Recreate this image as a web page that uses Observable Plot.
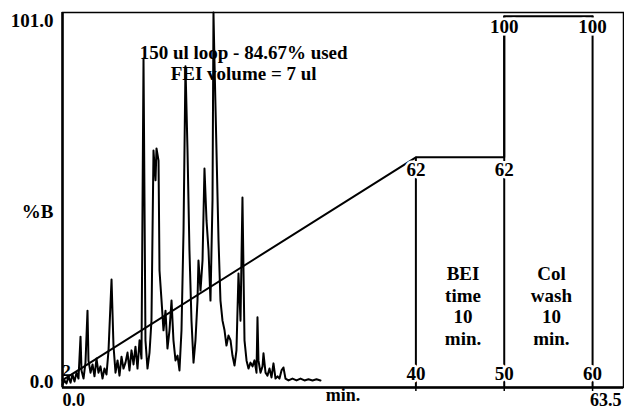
<!DOCTYPE html>
<html>
<head>
<meta charset="utf-8">
<script src="https://cdn.jsdelivr.net/npm/d3@7"></script>
<script src="https://cdn.jsdelivr.net/npm/@observablehq/plot@0.6"></script>
<style>
  html, body { margin: 0; padding: 0; background: #fff; }
  #chart { width: 624px; height: 410px; }
</style>
</head>
<body>
<div id="chart"></div>
<script>
// Chromatogram trace (time in min, signal on the %B scale)
const chromTime = [0.00,0.23,0.45,0.68,0.91,1.13,1.36,1.58,1.81,2.04,2.15,2.38,2.60,2.83,2.94,3.17,3.40,3.62,3.85,4.07,4.30,4.53,4.75,4.98,5.21,5.55,5.77,6.00,6.23,6.45,6.68,6.90,7.13,7.36,7.58,7.81,8.04,8.26,8.49,8.72,8.94,9.17,9.39,9.62,9.85,10.07,10.30,10.53,10.64,10.87,10.98,11.21,11.43,11.66,11.88,12.11,12.34,12.56,12.79,13.02,13.24,13.47,13.70,13.92,14.15,14.37,14.60,14.83,15.05,15.28,15.39,15.62,15.85,16.07,16.30,16.53,16.75,16.98,17.09,17.20,17.43,17.66,17.88,18.11,18.34,18.56,18.79,19.02,19.24,19.47,19.69,19.92,20.15,20.37,20.60,20.83,21.05,21.28,21.51,21.73,21.96,22.07,22.18,22.41,22.64,22.75,22.98,23.20,23.43,23.66,23.88,24.11,24.34,24.56,24.79,25.01,25.24,25.58,26.03,26.49,26.94,27.39,27.84,28.30,28.75,29.20];
const chromSignal = [0.8,1.9,1.1,3.0,1.3,3.5,1.6,4.0,2.4,13.7,4.6,2.4,6.7,20.7,7.3,4.0,6.2,3.0,7.8,4.0,5.7,2.4,5.1,3.5,10.0,29.1,11.3,4.0,7.3,3.2,8.3,5.1,6.7,9.4,4.6,10.0,6.2,11.0,5.1,12.7,7.8,88.6,12.7,5.1,9.4,18.0,63.8,55.8,64.4,61.1,31.5,23.4,15.4,20.7,10.5,15.4,23.4,12.7,7.3,8.6,4.6,15.4,42.3,86.5,63.8,36.9,18.0,6.7,12.7,23.4,34.2,26.1,34.2,59.0,45.0,36.9,23.4,50.4,101,88.1,63.8,39.6,23.4,18.0,15.4,11.3,14.0,12.7,8.6,5.9,10.0,30.7,18.0,51.2,12.7,7.3,5.1,6.7,5.7,7.3,4.0,18.9,7.3,4.0,5.7,9.2,4.0,3.2,5.1,2.7,6.5,2.4,3.0,2.4,4.6,5.4,2.4,1.9,2.4,1.9,2.4,1.9,2.2,1.9,2.2,1.9];

// Gradient program (%B)
const gradTime = [0, 40, 50, 50, 60];
const gradPct  = [2, 62, 62, 100, 100];

// Event markers
const eventTimes = [40, 50, 60];
const eventPct   = [62, 100, 100];
const eventLabels = ["40", "50", "60"];

// Gradient step labels
const stepTime  = [40, 50, 50, 60];
const stepPct   = [62, 62, 100, 100];
const stepLabel = ["62", "62", "100", "100"];

// Axis labels
const yTickValues = [0, 101];
const yTickLabels = ["0.0", "101.0"];
const xDomain = [0, 63.5];
const xTickLabels = ["0.0", "63.5"];

const titleLines = "150 ul loop - 84.67% used\nFEI volume = 7 ul";
const phaseNotes = ["BEI\ntime\n10\nmin.", "Col\nwash\n10\nmin."];
const phaseMid = [45, 55];

const chrom = chromTime.map((t, i) => ({t, v: chromSignal[i]}));
const grad = gradTime.map((t, i) => ({t, v: gradPct[i]}));
const events = eventTimes.map((t, i) => ({t, top: eventPct[i], label: eventLabels[i]}));
const steps = stepTime.map((t, i) => ({t, v: stepPct[i], label: stepLabel[i]}));
const yTicks = yTickValues.map((v, i) => ({v, label: yTickLabels[i]}));
const xTicks = xDomain.map((t, i) => ({t, label: xTickLabels[i]}));
const phases = phaseMid.map((t, i) => ({t, label: phaseNotes[i]}));

const font = {fontFamily: "Liberation Serif", fontWeight: "bold", fontSize: 19};
const halo = {stroke: "white", strokeWidth: 5, fill: "black"};

const chart = Plot.plot({
  width: 624,
  height: 410,
  marginLeft: 62,
  marginRight: 1,
  marginTop: 12,
  marginBottom: 23,
  x: {type: "linear", domain: xDomain, axis: null},
  y: {type: "linear", domain: [0, 101], axis: null},
  style: {background: "white", color: "black", overflow: "visible"},
  marks: [
    Plot.frame({stroke: "black", strokeWidth: 1.5}),
    // chromatogram
    Plot.line(chrom, {x: "t", y: "v", stroke: "black", strokeWidth: 2}),
    // gradient
    Plot.line(grad, {x: "t", y: "v", stroke: "black", strokeWidth: 2}),
    Plot.ruleX(events, {x: "t", y1: 0, y2: "top", stroke: "black", strokeWidth: 2}),
    // title annotation
    Plot.text([titleLines], {x: 20.5, frameAnchor: "top", dy: 31, text: d => d, lineHeight: 1.12, ...font}),
    // step labels
    Plot.text(steps.filter(d => d.v < 100), {x: "t", y: "v", text: "label", dy: 13, ...halo, ...font}),
    Plot.text(steps.filter(d => d.v >= 100), {x: "t", y: "v", text: "label", dy: 11, ...halo, ...font}),
    Plot.text(events, {x: "t", y: 0, text: "label", dy: -14, ...halo, ...font}),
    Plot.text([grad[0]], {x: "t", y: "v", text: d => String(d.v), dx: 4, dy: -10, ...font, fontSize: 17}),
    // phase notes
    Plot.text(phases, {x: "t", y: 22, text: "label", dx: 3, lineHeight: 1.13, ...font}),
    // axes
    Plot.ruleX([0], {stroke: "black", strokeWidth: 2.5}),
    Plot.ruleY([0], {stroke: "black", strokeWidth: 2.5}),
    Plot.ruleX(eventTimes, {x: d => d, y1: 0, y2: 0, insetBottom: -4, stroke: "black", strokeWidth: 1.5}),
    Plot.text(yTicks.filter(d => d.v === 0), {x: 0, y: "v", text: "label", textAnchor: "end", dx: -9, dy: -6, ...font}),
    Plot.text(yTicks.filter(d => d.v !== 0), {x: 0, y: "v", text: "label", textAnchor: "end", dx: -9, dy: 8, ...font}),
    Plot.text(["%B"], {frameAnchor: "left", text: d => d, textAnchor: "end", dx: -9, dy: 12, ...font}),
    Plot.text(xTicks.filter(d => d.t === 0), {x: "t", y: 0, text: "label", textAnchor: "start", dy: 13, fontFamily: "Liberation Serif", fontWeight: "bold", fontSize: 18}),
    Plot.text(xTicks.filter(d => d.t !== 0), {x: "t", y: 0, text: "label", textAnchor: "end", dx: -2, dy: 13, fontFamily: "Liberation Serif", fontWeight: "bold", fontSize: 18}),
    Plot.text(["min."], {frameAnchor: "bottom", text: d => d, dy: 13, fontFamily: "Liberation Serif", fontWeight: "bold", fontSize: 18})
  ]
});
document.getElementById("chart").appendChild(chart);
</script>
</body>
</html>
